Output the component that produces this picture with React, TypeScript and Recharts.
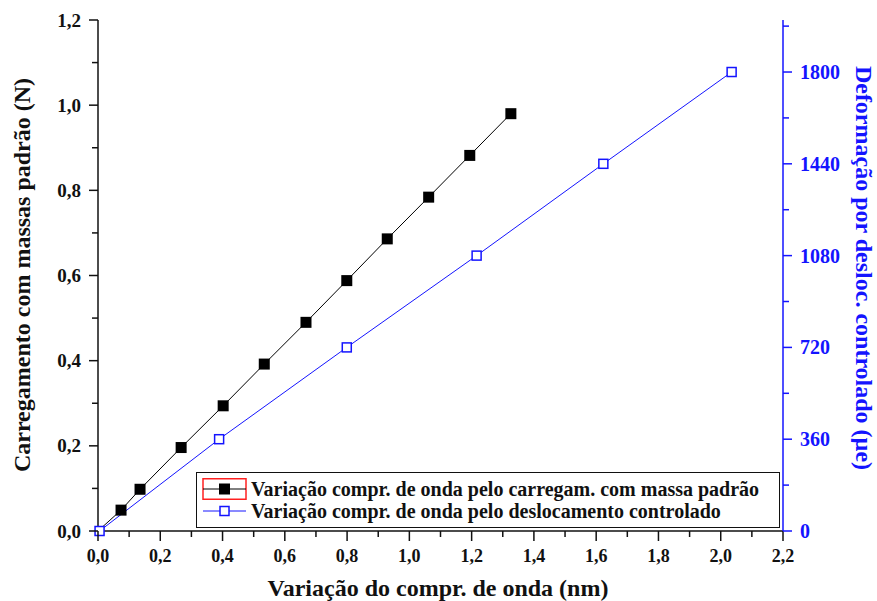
import { LineChart, Line, XAxis, YAxis, Legend, Label } from "recharts";

// wavelength shift (nm) vs. standard-mass load (N)
const loadShift = [0, 0.074, 0.135, 0.267, 0.402, 0.534, 0.668, 0.799, 0.929, 1.062, 1.194, 1.326];
const loadForce = [0, 0.049, 0.098, 0.196, 0.294, 0.392, 0.49, 0.588, 0.686, 0.784, 0.882, 0.98];

// wavelength shift (nm) vs. controlled-displacement strain (µe)
const dispShift = [0.005, 0.389, 0.799, 1.216, 1.623, 2.035];
const dispStrain = [0, 360, 720, 1080, 1440, 1800];

const xTicks = [0, 0.1, 0.2, 0.3, 0.4, 0.5, 0.6, 0.7, 0.8, 0.9, 1.0, 1.1, 1.2, 1.3, 1.4, 1.5, 1.6, 1.7, 1.8, 1.9, 2.0, 2.1, 2.2];
const leftTicks = [0, 0.1, 0.2, 0.3, 0.4, 0.5, 0.6, 0.7, 0.8, 0.9, 1.0, 1.1, 1.2];
const rightTicks = [0, 180, 360, 540, 720, 900, 1080, 1260, 1440, 1620, 1800, 1980];

const loadData = loadShift.map((x, i) => ({ x, force: loadForce[i] }));
const dispData = dispShift.map((x, i) => ({ x, strain: dispStrain[i] }));

const BLUE = "#1414ff";
const INK = "#111";
const FONT = "Liberation Serif, DejaVu Serif, serif";

const isMajor = (v: number, step: number) => Math.round(v / step) % 2 === 0;
const fmt = (v: number) => v.toFixed(1).replace(".", ",");

const BottomTick = (props: any) => {
  const { x, y, payload } = props;
  const major = isMajor(payload.value, 0.1);
  return (
    <g>
      <line x1={x} x2={x} y1={y} y2={y + (major ? 10 : 6)} stroke={INK} strokeWidth={1.5} />
      {major && (
        <text x={x} y={y + 25} textAnchor="middle" dominantBaseline="central"
          style={{ fontFamily: FONT }} fontWeight="bold" fontSize={18} fill={INK}>
          {fmt(payload.value)}
        </text>
      )}
    </g>
  );
};

const TopTick = (props: any) => {
  const { x, y, payload } = props;
  const major = isMajor(payload.value, 0.1);
  return <line x1={x} x2={x} y1={y} y2={y + (major ? 9 : 5)} stroke={INK} strokeWidth={1.5} />;
};

const LeftTick = (props: any) => {
  const { x, y, payload } = props;
  const major = isMajor(payload.value, 0.1);
  return (
    <g>
      <line x1={x - (major ? 9 : 6)} x2={x} y1={y} y2={y} stroke={INK} strokeWidth={1.5} />
      {major && (
        <text x={x - 17} y={y} textAnchor="end" dominantBaseline="central"
          style={{ fontFamily: FONT }} fontWeight="bold" fontSize={19} fill={INK}>
          {fmt(payload.value)}
        </text>
      )}
    </g>
  );
};

const RightTick = (props: any) => {
  const { x, y, payload } = props;
  const major = isMajor(payload.value, 180);
  return (
    <g>
      <line x1={x} x2={x + (major ? 9 : 6)} y1={y} y2={y} stroke={BLUE} strokeWidth={1.5} />
      {major && (
        <text x={x + 17} y={y} textAnchor="start" dominantBaseline="central"
          style={{ fontFamily: FONT }} fontWeight="bold" fontSize={20} fill={BLUE}>
          {payload.value}
        </text>
      )}
    </g>
  );
};

const SolidSquare = (props: any) => {
  const { cx, cy, index } = props;
  if (index === 0) return <g key={`s${index}`} />;
  return <rect key={`s${index}`} x={cx - 5.5} y={cy - 5.5} width={11} height={11} fill="#000" />;
};

const HollowSquare = (props: any) => {
  const { cx, cy, index } = props;
  return (
    <rect key={`h${index}`} x={cx - 4.5} y={cy - 4.5} width={9} height={9}
      fill="#fff" stroke={BLUE} strokeWidth={1.5} />
  );
};

const LegendBox = () => (
  <div style={{
    width: 584, height: 56, boxSizing: "border-box", border: `1.5px solid ${INK}`,
    background: "#fff", fontFamily: FONT, fontWeight: "bold", fontSize: 20, color: INK,
    paddingTop: 5, lineHeight: "22px", whiteSpace: "nowrap",
  }}>
    <div style={{ display: "flex", alignItems: "center", height: 22 }}>
      <svg width={54} height={22} style={{ flex: "none" }}>
        <rect x={6} y={0.75} width={43} height={20.5} fill="none" stroke="#ff2020" strokeWidth={1.5} />
        <line x1={6} x2={49} y1={11} y2={11} stroke="#000" strokeWidth={1} />
        <rect x={22} y={5.5} width={11} height={11} fill="#000" />
      </svg>
      <span>Variação compr. de onda pelo carregam. com massa padrão</span>
    </div>
    <div style={{ display: "flex", alignItems: "center", height: 22 }}>
      <svg width={54} height={22} style={{ flex: "none" }}>
        <line x1={6} x2={49} y1={11} y2={11} stroke={BLUE} strokeWidth={1} />
        <rect x={23} y={6.5} width={9} height={9} fill="#fff" stroke={BLUE} strokeWidth={1.5} />
      </svg>
      <span>Variação compr. de onda pelo deslocamento controlado</span>
    </div>
  </div>
);

export default function App() {
  return (
    <div style={{ position: "absolute", left: 0, top: 0, background: "#fff" }}>
      <LineChart width={877} height={601} margin={{ top: 20, right: 0, bottom: 0, left: 0 }}>
        <XAxis xAxisId="bottom" dataKey="x" type="number" domain={[0, 2.2]} ticks={xTicks}
          interval={0} height={70} tickSize={0} tickMargin={0} tickLine={false}
          tick={<BottomTick />} axisLine={{ stroke: INK, strokeWidth: 1.5 }}>
          <Label content={() => (
            <text x={438} y={588} textAnchor="middle" dominantBaseline="central"
              style={{ fontFamily: FONT }} fontWeight="bold" fontSize={24} fill={INK}>
              Variação do compr. de onda (nm)
            </text>
          )} />
        </XAxis>
        <XAxis xAxisId="top" orientation="top" dataKey="x" type="number" domain={[0, 2.2]}
          ticks={xTicks} interval={0} height={0} tickSize={0} tickMargin={0} tickLine={false}
          tick={<TopTick />} axisLine={{ stroke: INK, strokeWidth: 1.5 }} />
        <YAxis yAxisId="left" type="number" domain={[0, 1.2]} ticks={leftTicks} interval={0}
          width={98} tickSize={0} tickMargin={0} tickLine={false} tick={<LeftTick />}
          axisLine={{ stroke: INK, strokeWidth: 1.5 }}>
          <Label content={() => (
            <text x={22} y={275} transform="rotate(-90 22 275)" textAnchor="middle"
              dominantBaseline="central" style={{ fontFamily: FONT }} fontWeight="bold" fontSize={24} fill={INK}>
              Carregamento com massas padrão (N)
            </text>
          )} />
        </YAxis>
        <YAxis yAxisId="right" orientation="right" type="number" domain={[0, 2004]} ticks={rightTicks}
          interval={0} width={94} tickSize={0} tickMargin={0} tickLine={false} tick={<RightTick />}
          axisLine={{ stroke: BLUE, strokeWidth: 1.5 }}>
          <Label content={() => (
            <text x={864} y={268} transform="rotate(90 864 268)" textAnchor="middle"
              dominantBaseline="central" style={{ fontFamily: FONT }} fontWeight="bold" fontSize={24} fill={BLUE}>
              Deformação por desloc. controlado (µe)
            </text>
          )} />
        </YAxis>
        <Legend layout="horizontal" verticalAlign="middle" align="center" content={<LegendBox />}
          wrapperStyle={{ position: "absolute", left: 196, top: 472, width: 584, height: 56 }} />
        <Line xAxisId="bottom" yAxisId="left" data={loadData} dataKey="force" type="linear"
          stroke="#000" strokeWidth={1} dot={SolidSquare} activeDot={false}
          isAnimationActive={false} legendType="square" />
        <Line xAxisId="bottom" yAxisId="right" data={dispData} dataKey="strain" type="linear"
          stroke={BLUE} strokeWidth={1} dot={HollowSquare} activeDot={false}
          isAnimationActive={false} legendType="square" />
      </LineChart>
    </div>
  );
}
